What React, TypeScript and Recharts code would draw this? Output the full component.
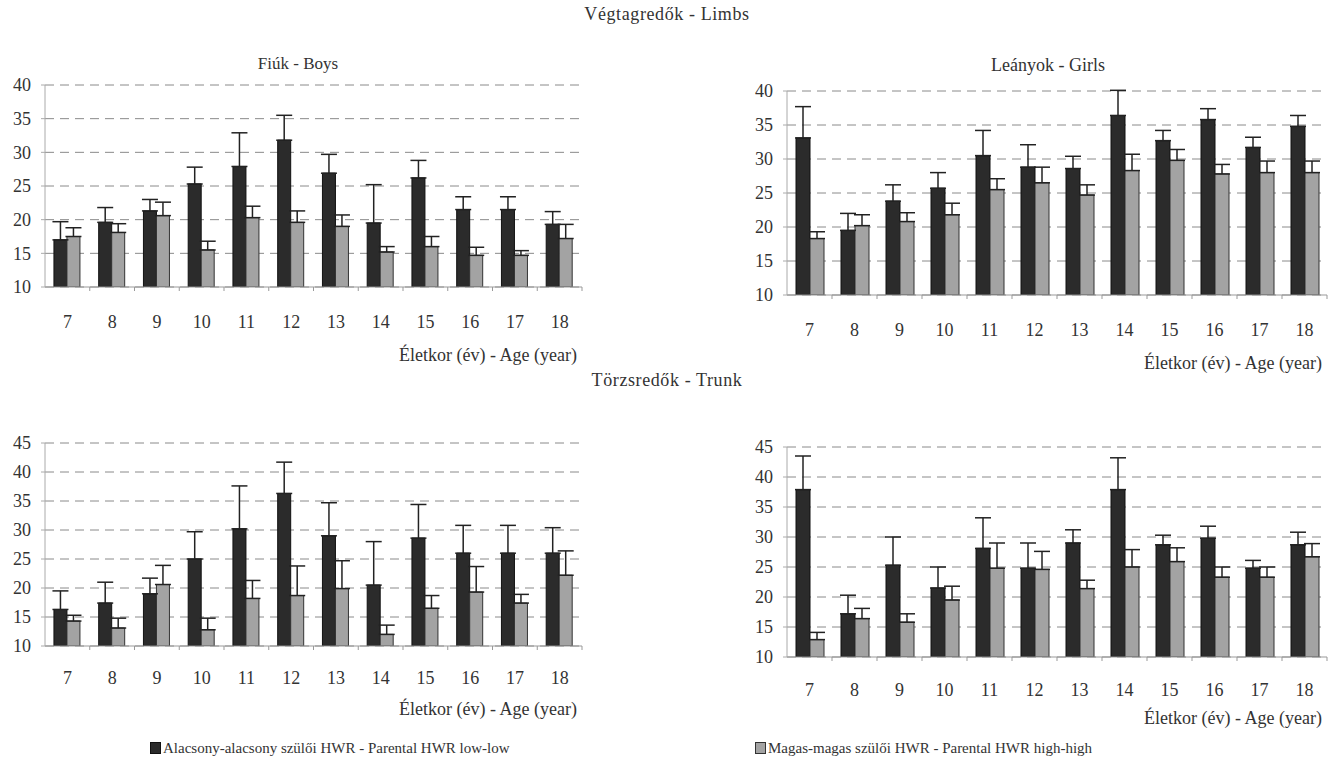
import React from 'react';
import { BarChart, Bar, XAxis, YAxis, CartesianGrid, ErrorBar } from 'recharts';

const ages = ['7', '8', '9', '10', '11', '12', '13', '14', '15', '16', '17', '18'];

const limbTicks = [10, 15, 20, 25, 30, 35, 40];
const trunkTicks = [10, 15, 20, 25, 30, 35, 40, 45];

// Végtagredők - fiúk
const boysLimbsLow = [17.0, 19.6, 21.3, 25.3, 27.9, 31.8, 26.9, 19.5, 26.2, 21.5, 21.5, 19.3];
const boysLimbsLowTop = [19.7, 21.8, 23.0, 27.8, 32.9, 35.5, 29.7, 25.2, 28.8, 23.4, 23.4, 21.2];
const boysLimbsHigh = [17.5, 18.1, 20.6, 15.5, 20.3, 19.6, 19.0, 15.2, 16.0, 14.7, 14.7, 17.2];
const boysLimbsHighTop = [18.8, 19.4, 22.6, 16.8, 22.0, 21.3, 20.7, 16.0, 17.5, 15.9, 15.4, 19.3];

// Végtagredők - lányok
const girlsLimbsLow = [33.1, 19.5, 23.8, 25.7, 30.5, 28.8, 28.6, 36.4, 32.7, 35.8, 31.7, 34.8];
const girlsLimbsLowTop = [37.7, 22.0, 26.2, 28.0, 34.2, 32.1, 30.4, 40.1, 34.2, 37.4, 33.2, 36.4];
const girlsLimbsHigh = [18.3, 20.2, 20.8, 21.8, 25.5, 26.5, 24.7, 28.3, 29.8, 27.8, 28.0, 28.0];
const girlsLimbsHighTop = [19.3, 21.8, 22.1, 23.5, 27.1, 28.8, 26.2, 30.7, 31.4, 29.2, 29.7, 29.7];

// Törzsredők - fiúk
const boysTrunkLow = [16.3, 17.4, 19.0, 25.0, 30.2, 36.3, 29.0, 20.5, 28.6, 26.0, 26.0, 26.0];
const boysTrunkLowTop = [19.5, 21.0, 21.7, 29.7, 37.6, 41.7, 34.7, 28.0, 34.4, 30.8, 30.8, 30.4];
const boysTrunkHigh = [14.3, 13.1, 20.6, 12.8, 18.2, 18.7, 19.9, 12.0, 16.5, 19.3, 17.4, 22.2];
const boysTrunkHighTop = [15.3, 14.8, 23.9, 14.8, 21.3, 23.8, 24.7, 13.6, 18.7, 23.7, 18.9, 26.4];

// Törzsredők - lányok
const girlsTrunkLow = [37.9, 17.2, 25.3, 21.5, 28.1, 24.8, 29.0, 37.9, 28.7, 29.8, 24.8, 28.7];
const girlsTrunkLowTop = [43.5, 20.3, 30.0, 25.0, 33.2, 29.0, 31.2, 43.2, 30.3, 31.8, 26.1, 30.8];
const girlsTrunkHigh = [12.9, 16.4, 15.8, 19.5, 24.8, 24.6, 21.4, 25.0, 25.9, 23.3, 23.3, 26.7];
const girlsTrunkHighTop = [14.1, 18.1, 17.2, 21.8, 29.0, 27.6, 22.8, 27.9, 28.2, 25.0, 25.0, 28.9];

const FONT = 'Liberation Serif, DejaVu Serif, serif';
const TEXT = '#333';
const DARK = '#2b2b2b';
const LIGHT = '#a3a3a3';

function buildRows(low: number[], lowTop: number[], high: number[], highTop: number[]) {
  return ages.map((age, i) => ({
    age,
    low: low[i],
    lowErr: [0, +(lowTop[i] - low[i]).toFixed(2)],
    high: high[i],
    highErr: [0, +(highTop[i] - high[i]).toFixed(2)],
  }));
}

type PanelProps = {
  rows: any[];
  left: number;
  top: number;
  x0: number;
  x1: number;
  y0: number;
  y1: number;
  ticks: number[];
  labelGap: number;
};

function Panel({ rows, left, top, x0, x1, y0, y1, ticks, labelGap }: PanelProps) {
  const width = x1 - left + 6;
  const height = y1 - top + 50;
  const band = (x1 - x0) / ages.length;
  const tickMargin = labelGap - 13;

  const renderTick = (props: any) => {
    const { x, y, payload } = props;
    const axisY = y - 6 - tickMargin;
    return (
      <g>
        <line x1={x + band / 2} y1={axisY} x2={x + band / 2} y2={axisY + 4} stroke="#999" />
        <text x={x} y={y} dy="0.71em" textAnchor="middle" fill={TEXT} fontSize={18} fontFamily={FONT}>
          {payload.value}
        </text>
      </g>
    );
  };

  return (
    <div style={{ position: 'absolute', left, top }}>
      <BarChart
        width={width}
        height={height}
        data={rows}
        margin={{ top: y0 - top, right: 6, left: 0, bottom: 0 }}
        barCategoryGap="20%"
        barGap={0}
      >
        <CartesianGrid vertical={false} stroke="#8a8a8a" strokeDasharray="9 6" />
        <XAxis
          dataKey="age"
          height={50}
          tickLine={false}
          tickMargin={tickMargin}
          tick={renderTick}
          axisLine={{ stroke: '#999' }}
          interval={0}
        />
        <YAxis
          width={x0 - left}
          domain={[ticks[0], ticks[ticks.length - 1]]}
          ticks={ticks}
          allowDataOverflow
          tickSize={4}
          tickMargin={10}
          tickLine={{ stroke: '#aaa' }}
          axisLine={{ stroke: '#aaa' }}
          tick={{ fill: TEXT, fontSize: 18, fontFamily: FONT }}
        />
        <Bar dataKey="low" fill={DARK} stroke="#111" strokeWidth={1} isAnimationActive={false}>
          <ErrorBar dataKey="lowErr" direction="y" width={8} stroke="#222" strokeWidth={1.5} />
        </Bar>
        <Bar dataKey="high" fill={LIGHT} stroke="#333" strokeWidth={1} isAnimationActive={false}>
          <ErrorBar dataKey="highErr" direction="y" width={8} stroke="#222" strokeWidth={1.5} />
        </Bar>
      </BarChart>
    </div>
  );
}

function Label({ text, x, y, align = 'center', size = 16, spacing = 0 }: { text: string; x: number; y: number; align?: string; size?: number; spacing?: number }) {
  const tx = align === 'center' ? '-50%' : align === 'right' ? '-100%' : '0';
  return (
    <div
      style={{
        position: 'absolute',
        left: x,
        top: y,
        transform: `translate(${tx}, -50%)`,
        whiteSpace: 'nowrap',
        fontFamily: FONT,
        fontSize: size,
        letterSpacing: spacing,
        color: TEXT,
        lineHeight: 1,
      }}
    >
      {text}
    </div>
  );
}

export default function App() {
  const boysLimbs = buildRows(boysLimbsLow, boysLimbsLowTop, boysLimbsHigh, boysLimbsHighTop);
  const girlsLimbs = buildRows(girlsLimbsLow, girlsLimbsLowTop, girlsLimbsHigh, girlsLimbsHighTop);
  const boysTrunk = buildRows(boysTrunkLow, boysTrunkLowTop, boysTrunkHigh, boysTrunkHighTop);
  const girlsTrunk = buildRows(girlsTrunkLow, girlsTrunkLowTop, girlsTrunkHigh, girlsTrunkHighTop);

  return (
    <div style={{ position: 'absolute', left: 0, top: 0, width: 1335, height: 776, background: '#fff', overflow: 'hidden' }}>
      <Label text="Végtagredők - Limbs" x={667} y={14} size={18} spacing={0.6} />
      <Label text="Fiúk - Boys" x={298} y={63} size={17} />
      <Label text="Leányok - Girls" x={1048} y={65} size={18} />

      <Panel rows={boysLimbs} left={0} top={70} x0={45} x1={582} y0={85} y1={287} ticks={limbTicks} labelGap={35} />
      <Panel rows={girlsLimbs} left={740} top={76} x0={787} x1={1327} y0={91} y1={295} ticks={limbTicks} labelGap={35} />

      <Label text="Életkor (év) - Age (year)" x={577} y={355} align="right" size={18} />
      <Label text="Életkor (év) - Age (year)" x={1322} y={363} align="right" size={18} />

      <Label text="Törzsredők - Trunk" x={667} y={380} size={18} spacing={0.6} />

      <Panel rows={boysTrunk} left={0} top={428} x0={45} x1={582} y0={443} y1={646} ticks={trunkTicks} labelGap={32} />
      <Panel rows={girlsTrunk} left={740} top={432} x0={787} x1={1327} y0={447} y1={657} ticks={trunkTicks} labelGap={33} />

      <Label text="Életkor (év) - Age (year)" x={577} y={709} align="right" size={18} />
      <Label text="Életkor (év) - Age (year)" x={1322} y={718} align="right" size={18} />

      <div style={{ position: 'absolute', left: 150, top: 742, width: 11, height: 12, background: DARK, border: '1px solid #111', boxSizing: 'border-box' }} />
      <Label text="Alacsony-alacsony szülői HWR - Parental HWR low-low" x={163} y={748} align="left" size={15} />
      <div style={{ position: 'absolute', left: 755, top: 742, width: 11, height: 12, background: LIGHT, border: '1px solid #333', boxSizing: 'border-box' }} />
      <Label text="Magas-magas szülői HWR - Parental HWR high-high" x={768} y={748} align="left" size={15} />
    </div>
  );
}
